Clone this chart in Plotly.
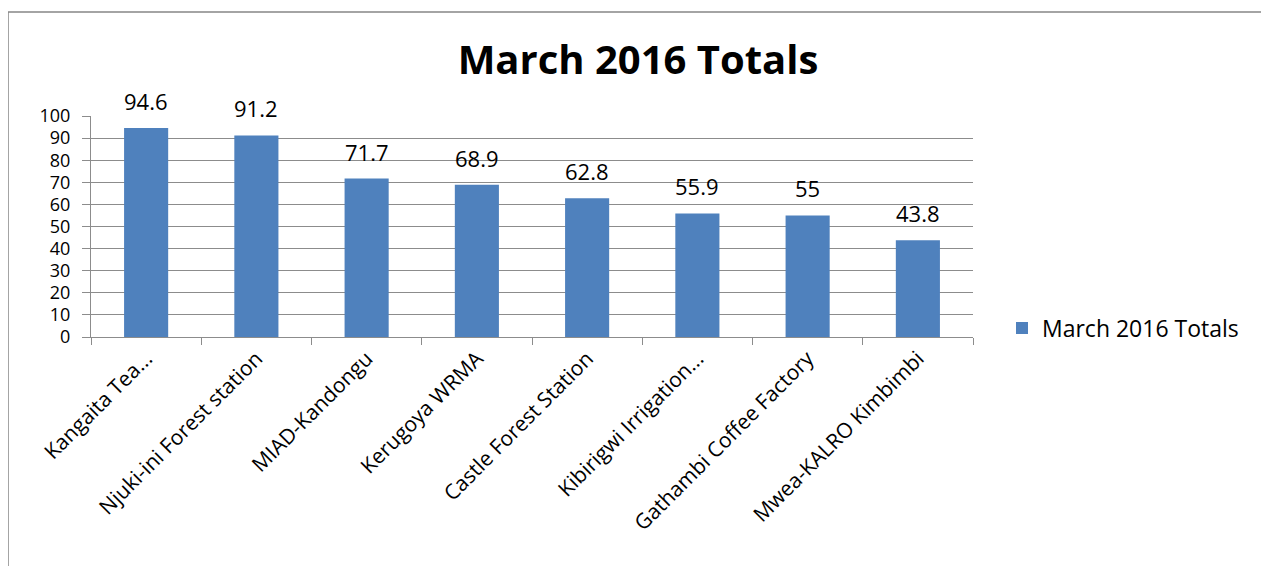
import plotly.graph_objects as go

categories = ["Kangaita Tea...", "Njuki-ini Forest station", "MIAD-Kandongu", "Kerugoya WRMA",
              "Castle Forest Station", "Kibirigwi Irrigation...", "Gathambi Coffee Factory",
              "Mwea-KALRO Kimbimbi"]
values = [94.6, 91.2, 71.7, 68.9, 62.8, 55.9, 55, 43.8]
series_name = "March 2016 Totals"
y_ticks = list(range(0, 101, 10))

FONT = "Open Sans"
GRID = "#8c8c8c"
OFF = 8  # page body margin

fig = go.Figure()
fig.add_trace(go.Bar(
    x=categories, y=values, name=series_name,
    marker=dict(color="#4F81BD", line=dict(width=0)),
    cliponaxis=False, showlegend=True,
))

for c, v in zip(categories, values):
    fig.add_annotation(x=c, y=v, xref="x", yref="y", text=f"{v:g}", showarrow=False,
                       yanchor="bottom", yshift=10,
                       font=dict(family=FONT, size=22, color="#000"))

W, H = 1261, 558
L, R, T, B = 91 - OFF, 973 - OFF, 116 - OFF, 337 - OFF
pw, ph = R - L, B - T

def px_x(p):
    return (p - OFF - L) / pw

def px_y(p):
    return (B - (p - OFF)) / ph

fig.update_layout(
    width=W, height=H,
    margin=dict(l=L, r=W - R, t=T, b=H - B, pad=0),
    paper_bgcolor="white", plot_bgcolor="white",
    bargap=0.6,
    font=dict(family=FONT, color="#000"),
    title=dict(text="<b>March 2016 Totals</b>", x=(638 - OFF) / W, xanchor="center",
               y=1 - (60 - OFF) / H, yanchor="middle",
               font=dict(family=FONT, size=40, color="#000")),
    showlegend=True,
    legend=dict(x=px_x(1002), xanchor="left", y=px_y(328), yanchor="middle",
                font=dict(family=FONT, size=23, color="#000"),
                bgcolor="rgba(0,0,0,0)", itemwidth=30),
    xaxis=dict(tickangle=-45, tickson="boundaries", ticks="outside", ticklen=7,
               tickcolor=GRID, showline=True, linecolor=GRID, linewidth=1,
               showgrid=False, tickfont=dict(family=FONT, size=21, color="#000")),
    yaxis=dict(range=[0, 100], tickvals=y_ticks, ticks="outside", ticklen=8,
               tickcolor=GRID, showline=True, linecolor=GRID, linewidth=1,
               showgrid=True, gridcolor=GRID, gridwidth=1, zeroline=False,
               ticklabelstandoff=8,
               tickfont=dict(family=FONT, size=18, color="#000")),
    shapes=[dict(type="rect", xref="paper", yref="paper",
                 x0=px_x(8), x1=px_x(1267), y0=px_y(600), y1=px_y(12),
                 line=dict(color="#878787", width=1.5), fillcolor="rgba(0,0,0,0)",
                 layer="below")],
)

fig.write_html("out.html")
